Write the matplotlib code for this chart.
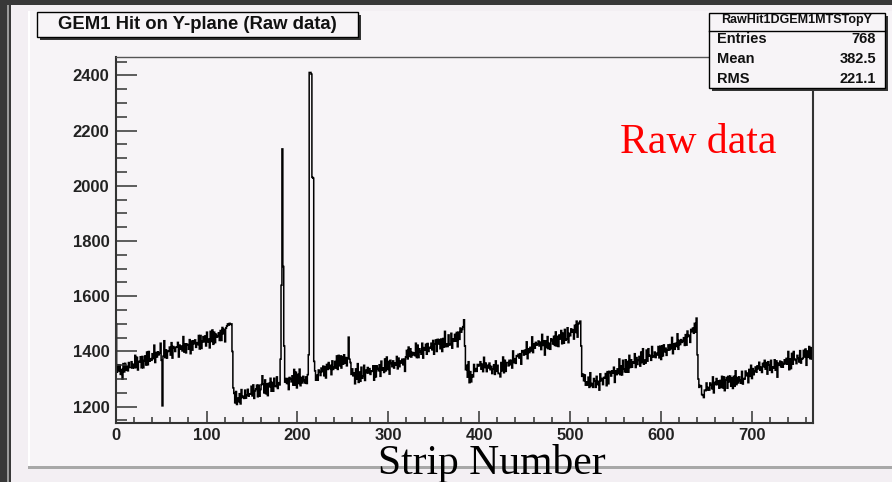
"""GEM1 Y-plane raw hit histogram, drawn in the old ROOT canvas look."""
import matplotlib
matplotlib.use("Agg")
import matplotlib.pyplot as plt
import numpy as np
from matplotlib.patches import Rectangle
from matplotlib.ticker import MultipleLocator

W, H = 892, 482

# counts per strip, one list per 128-strip APV block
block1 = [
    1500, 1325, 1352, 1330, 1351, 1317, 1335, 1300, 1356, 1326, 1357, 1332, 1346, 1330, 1360, 1342,
    1342, 1363, 1340, 1354, 1341, 1386, 1342, 1379, 1333, 1364, 1362, 1381, 1341, 1382, 1341, 1367,
    1384, 1351, 1398, 1352, 1400, 1365, 1374, 1368, 1392, 1374, 1423, 1360, 1396, 1380, 1399, 1388,
    1395, 1430, 1368, 1203, 1383, 1439, 1378, 1406, 1376, 1400, 1402, 1416, 1387, 1432, 1376, 1418,
    1414, 1400, 1415, 1416, 1433, 1380, 1423, 1408, 1420, 1402, 1454, 1398, 1428, 1395, 1427, 1423,
    1408, 1443, 1392, 1438, 1405, 1439, 1428, 1442, 1415, 1432, 1425, 1458, 1409, 1458, 1411, 1436,
    1454, 1435, 1456, 1420, 1470, 1435, 1445, 1413, 1473, 1436, 1478, 1426, 1470, 1432, 1463, 1452,
    1455, 1468, 1440, 1476, 1440, 1487, 1464, 1480, 1435, 1485, 1492, 1500, 1496, 1502, 1498, 1500,
]
block2 = [
    1400, 1268, 1248, 1214, 1255, 1208, 1231, 1218, 1247, 1210, 1262, 1233, 1238, 1230, 1260, 1231,
    1242, 1263, 1238, 1246, 1247, 1274, 1239, 1279, 1230, 1258, 1264, 1278, 1236, 1278, 1238, 1262,
    1280, 1312, 1282, 1250, 1297, 1247, 1283, 1240, 1285, 1272, 1303, 1256, 1288, 1256, 1303, 1274,
    1273, 1308, 1266, 1287, 1279, 1372, 1640, 2134, 1708, 1420, 1289, 1302, 1284, 1302, 1262, 1306,
    1300, 1290, 1312, 1278, 1335, 1278, 1325, 1268, 1317, 1284, 1336, 1276, 1306, 1286, 1310, 1295,
    1286, 1308, 1284, 1316, 1388, 2411, 2411, 2405, 2031, 2028, 1364, 1330, 1296, 1314, 1296, 1333,
    1327, 1313, 1340, 1327, 1347, 1312, 1345, 1304, 1353, 1335, 1360, 1338, 1350, 1316, 1366, 1335,
    1342, 1364, 1340, 1384, 1335, 1386, 1348, 1384, 1340, 1382, 1354, 1388, 1358, 1378, 1348, 1376,
]
block3 = [
    1452, 1372, 1360, 1317, 1337, 1312, 1323, 1283, 1337, 1300, 1356, 1288, 1326, 1292, 1343, 1303,
    1310, 1350, 1295, 1332, 1323, 1342, 1322, 1338, 1317, 1330, 1328, 1348, 1296, 1348, 1308, 1348,
    1338, 1330, 1352, 1310, 1365, 1332, 1341, 1324, 1373, 1330, 1380, 1335, 1364, 1318, 1368, 1357,
    1345, 1366, 1340, 1358, 1351, 1382, 1337, 1376, 1345, 1366, 1358, 1372, 1352, 1372, 1328, 1380,
    1404, 1373, 1416, 1382, 1410, 1380, 1397, 1388, 1395, 1385, 1430, 1378, 1423, 1378, 1410, 1400,
    1390, 1430, 1376, 1414, 1405, 1426, 1390, 1429, 1400, 1415, 1412, 1430, 1406, 1440, 1390, 1428,
    1442, 1400, 1444, 1427, 1443, 1410, 1445, 1400, 1447, 1416, 1473, 1418, 1428, 1418, 1460, 1423,
    1426, 1466, 1412, 1446, 1437, 1462, 1438, 1469, 1417, 1470, 1444, 1485, 1470, 1480, 1490, 1515,
]
block4 = [
    1420, 1334, 1350, 1307, 1363, 1287, 1327, 1290, 1315, 1308, 1353, 1328, 1338, 1328, 1353, 1347,
    1352, 1363, 1336, 1354, 1327, 1379, 1342, 1358, 1327, 1350, 1340, 1358, 1334, 1346, 1320, 1336,
    1352, 1317, 1366, 1328, 1350, 1320, 1321, 1308, 1360, 1330, 1380, 1323, 1368, 1328, 1360, 1360,
    1348, 1368, 1352, 1368, 1340, 1402, 1360, 1374, 1357, 1385, 1382, 1390, 1376, 1392, 1354, 1403,
    1400, 1387, 1405, 1390, 1435, 1374, 1410, 1396, 1415, 1402, 1453, 1396, 1428, 1412, 1433, 1423,
    1426, 1438, 1420, 1434, 1407, 1462, 1422, 1439, 1387, 1438, 1414, 1454, 1410, 1430, 1408, 1446,
    1440, 1427, 1455, 1422, 1471, 1420, 1455, 1418, 1460, 1445, 1476, 1428, 1466, 1430, 1480, 1441,
    1445, 1486, 1432, 1466, 1457, 1482, 1470, 1479, 1445, 1495, 1469, 1510, 1452, 1500, 1505, 1510,
]
block5 = [
    1420, 1310, 1318, 1294, 1315, 1278, 1290, 1278, 1307, 1270, 1323, 1276, 1284, 1270, 1302, 1293,
    1270, 1310, 1280, 1292, 1260, 1319, 1294, 1302, 1280, 1306, 1304, 1320, 1276, 1327, 1283, 1328,
    1324, 1311, 1330, 1322, 1343, 1288, 1330, 1316, 1337, 1320, 1373, 1316, 1348, 1315, 1368, 1337,
    1326, 1370, 1325, 1364, 1325, 1386, 1342, 1370, 1343, 1362, 1358, 1392, 1342, 1378, 1353, 1368,
    1382, 1347, 1398, 1360, 1410, 1354, 1369, 1358, 1405, 1365, 1410, 1383, 1386, 1368, 1418, 1380,
    1382, 1398, 1378, 1394, 1387, 1418, 1377, 1419, 1371, 1420, 1384, 1424, 1399, 1412, 1386, 1406,
    1424, 1405, 1425, 1410, 1451, 1392, 1427, 1408, 1430, 1418, 1464, 1408, 1440, 1425, 1443, 1433,
    1438, 1450, 1422, 1461, 1423, 1474, 1454, 1459, 1433, 1480, 1472, 1485, 1466, 1502, 1470, 1521,
]
block6 = [
    1388, 1300, 1270, 1277, 1275, 1244, 1241, 1233, 1260, 1258, 1286, 1260, 1270, 1260, 1286, 1280,
    1265, 1308, 1250, 1288, 1280, 1302, 1280, 1294, 1267, 1295, 1270, 1310, 1268, 1308, 1258, 1296,
    1306, 1267, 1310, 1290, 1311, 1274, 1305, 1266, 1310, 1274, 1330, 1280, 1306, 1286, 1308, 1295,
    1285, 1328, 1282, 1302, 1300, 1329, 1312, 1322, 1287, 1335, 1310, 1350, 1302, 1338, 1316, 1330,
    1344, 1325, 1348, 1337, 1361, 1332, 1343, 1324, 1357, 1345, 1368, 1336, 1360, 1318, 1363, 1351,
    1332, 1368, 1324, 1344, 1340, 1370, 1332, 1366, 1307, 1358, 1350, 1365, 1344, 1362, 1343, 1356,
    1370, 1355, 1375, 1354, 1400, 1334, 1373, 1338, 1393, 1354, 1400, 1373, 1368, 1356, 1386, 1375,
    1362, 1403, 1358, 1372, 1375, 1404, 1380, 1409, 1350, 1402, 1379, 1418, 1374, 1414, 1373, 1406,
]

title = "GEM1 Hit on Y-plane (Raw data)"
hist_name = "RawHit1DGEM1MTSTopY"
stats = [("Entries", "768"), ("Mean", "382.5"), ("RMS", "221.1")]

counts = np.array(block1 + block2 + block3 + block4 + block5 + block6, dtype=float)
edges = np.arange(len(counts) + 1)

SANS = "Liberation Sans"
SERIF = "Liberation Serif"
DARK = "#383838"
PANEL = "#f3eff3"
PAD = "#f7f4f7"

fig = plt.figure(figsize=(W / 100, H / 100), dpi=100, facecolor=DARK)


def box(x0, y0, x1, y1, **kw):
    # pixel box (top-left origin) -> figure fraction rectangle
    r = Rectangle((x0 / W, 1 - y1 / H), (x1 - x0) / W, (y1 - y0) / H,
                  transform=fig.transFigure, **kw)
    fig.add_artist(r)
    return r


def ftext(x, y, s, **kw):
    return fig.text(x / W, 1 - y / H, s, **kw)


# canvas frame
box(6.5, 5, 9, H, facecolor="#9a9a9a", edgecolor="none", zorder=-5)
box(11, 5, W, H, facecolor=PANEL, edgecolor="none", zorder=-5)
box(28, 11, W, 466, facecolor=PAD, edgecolor="none", zorder=-4)
box(28, 11, 29.5, 466, facecolor="white", edgecolor="none", zorder=-4)
box(28, 465.5, W, 468.5, facecolor="#a8a8a8", edgecolor="none", zorder=-4)

ax = fig.add_axes([115.7 / W, 1 - 422.7 / H, (813.3 - 115.7) / W, (422.7 - 57) / H])
ax.set_facecolor("none")
ax.stairs(counts, edges, color="black", linewidth=1.1, baseline=None)
ax.set_xlim(0, len(counts))
ax.set_ylim(1142, 2467)

ax.xaxis.set_major_locator(MultipleLocator(100))
ax.xaxis.set_minor_locator(MultipleLocator(20))
ax.yaxis.set_major_locator(MultipleLocator(200))
ax.yaxis.set_minor_locator(MultipleLocator(50))
ax.tick_params(axis="y", which="major", direction="in", length=15, width=1.1, color="#333333", pad=4.5)
ax.tick_params(axis="y", which="minor", direction="in", length=8, width=1.1, color="#333333")
ax.tick_params(axis="x", which="major", direction="in", length=8.6, width=1.1, color="#333333", pad=3.5)
ax.tick_params(axis="x", which="minor", direction="in", length=4.3, width=1.1, color="#333333")
for lab in ax.get_xticklabels() + ax.get_yticklabels():
    lab.set_fontfamily(SANS)
    lab.set_fontweight("bold")
    lab.set_fontsize(12)
    lab.set_color("#222222")
for side in ("left", "bottom", "right"):
    ax.spines[side].set_linewidth(1.5)
    ax.spines[side].set_color("#333333")
ax.spines["top"].set_linewidth(1.0)
ax.spines["top"].set_color("#555555")

# title box with shadow
box(39.5, 15, 361, 40.3, facecolor="#333333", edgecolor="none", zorder=5)
box(36.7, 12.3, 358, 37.3, facecolor=PAD, edgecolor="black", linewidth=1.0, zorder=6)
ftext(197, 24.5, title, ha="center", va="center", fontsize=13.3, fontweight="bold",
      family=SANS, color="#111111", zorder=7)

# stats box with shadow
box(711.5, 15.5, 887.5, 90.5, facecolor="#333333", edgecolor="none", zorder=5)
box(709, 13, 885, 88, facecolor=PAD, edgecolor="black", linewidth=1.0, zorder=6)
fig.add_artist(plt.Line2D([709 / W, 885 / W], [1 - 30.7 / H, 1 - 30.7 / H],
                          transform=fig.transFigure, color="black", linewidth=1.0, zorder=7))
ftext(797, 20.5, hist_name, ha="center", va="center", fontsize=9, fontweight="bold",
      family=SANS, color="#111111", zorder=7)
for i, (name, val) in enumerate(stats):
    yy = 38.8 + i * 20.2
    ftext(717, yy, name, ha="left", va="center", fontsize=10.5, fontweight="bold",
          family=SANS, color="#111111", zorder=7)
    ftext(876, yy, val, ha="right", va="center", fontsize=10.5, fontweight="bold",
          family=SANS, color="#111111", zorder=7)

# overlay labels
ftext(620, 153.3, "Raw data", ha="left", va="baseline", fontsize=30, family=SERIF,
      color="#ff0000", zorder=8)
ftext(378, 474, "Strip Number", ha="left", va="baseline", fontsize=30, family=SERIF,
      color="black", zorder=8)

fig.savefig("out.png", dpi=100, facecolor=DARK)
